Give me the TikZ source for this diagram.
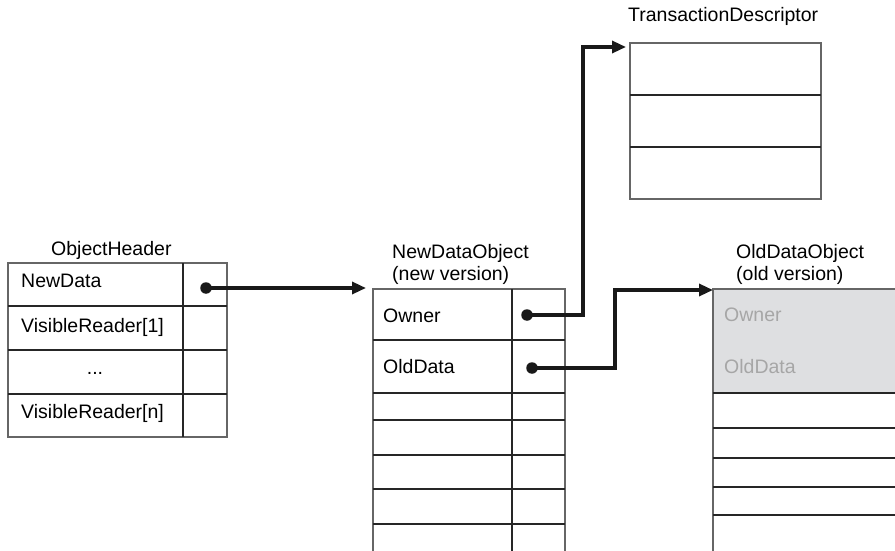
\documentclass[tikz,border=0pt]{standalone}
\usepackage{fontspec}
\setmainfont{Liberation Sans}
\usetikzlibrary{arrows.meta}
\definecolor{oldfill}{HTML}{DEDFE1}
\definecolor{oldtext}{HTML}{A6A6A6}
\tikzset{
  frame/.style={draw=black!60, line width=1.1pt},
  rowline/.style={draw=black!85, line width=1.1pt},
  lbl/.style={inner sep=0pt, anchor=base west, font=\fontsize{19.5}{22}\selectfont},
  title/.style={lbl, align=left},
  ghost/.style={lbl, text=oldtext},
  ptr/.style={draw=black!90, line width=3.3pt, -{Triangle[length=14pt,width=12pt]}},
  dotmark/.style={circle, fill=black!90, inner sep=0pt, minimum size=11.5pt},
}
\begin{document}
\begin{tikzpicture}[x=1pt,y=-1pt]
\useasboundingbox (0,0) rectangle (895,551);

% ---- ObjectHeader ----
\node[lbl] (ohT) at (51,255) {ObjectHeader};
\draw[frame] (8,263) rectangle (227,437);
\draw[rowline] (183,263) -- (183,437);
\foreach \y in {306,350,394} \draw[rowline] (8,\y) -- (227,\y);
\node[lbl] (ohA) at (21,287) {NewData};
\node[lbl] (ohB) at (21,332) {VisibleReader[1]};
\node[lbl, anchor=base] (ohC) at (95,374) {...};
\node[lbl] (ohD) at (21,418) {VisibleReader[n]};
\node[dotmark] (pNew) at (206,288) {};

% ---- NewDataObject ----
\node[title] (ndT) at (392,258) {NewDataObject};
\node[title] (ndT2) at (392,280) {(new version)};
\draw[frame] (373,551) -- (373,289) -- (565,289) -- (565,551);
\draw[rowline] (512,289) -- (512,551);
\foreach \y in {340,393,420,455,489,524} \draw[rowline] (373,\y) -- (565,\y);
\node[lbl] (ndA) at (383,322) {Owner};
\node[lbl] (ndB) at (383,373) {OldData};
\node[dotmark] (pOwner) at (527,315) {};
\node[dotmark] (pOld) at (532,368) {};
\coordinate (ndIn) at (366,288);

% ---- TransactionDescriptor ----
\node[lbl] (tdT) at (628,22) {TransactionDescriptor};
\draw[frame] (630,43) rectangle (821,199);
\foreach \y in {95,147} \draw[rowline] (630,\y) -- (821,\y);
\coordinate (tdIn) at (626,47);

% ---- OldDataObject ----
\node[title] (odT) at (736,258) {OldDataObject};
\node[title] (odT2) at (736,280) {(old version)};
\fill[oldfill] (713,289) rectangle (895,393);
\draw[frame] (713,551) -- (713,289) -- (895,289);
\foreach \y in {393,428,458,487,515} \draw[rowline] (713,\y) -- (895,\y);
\node[ghost] (odA) at (724,321) {Owner};
\node[ghost] (odB) at (724,373) {OldData};
\coordinate (odIn) at (713,290);

% ---- pointers ----
\draw[ptr] (pNew.center) -- (ndIn);
\draw[ptr] (pOwner.center) -- (583,315) |- (tdIn);
\draw[ptr] (pOld.center) -- (615,368) |- (odIn);
\end{tikzpicture}
\end{document}
